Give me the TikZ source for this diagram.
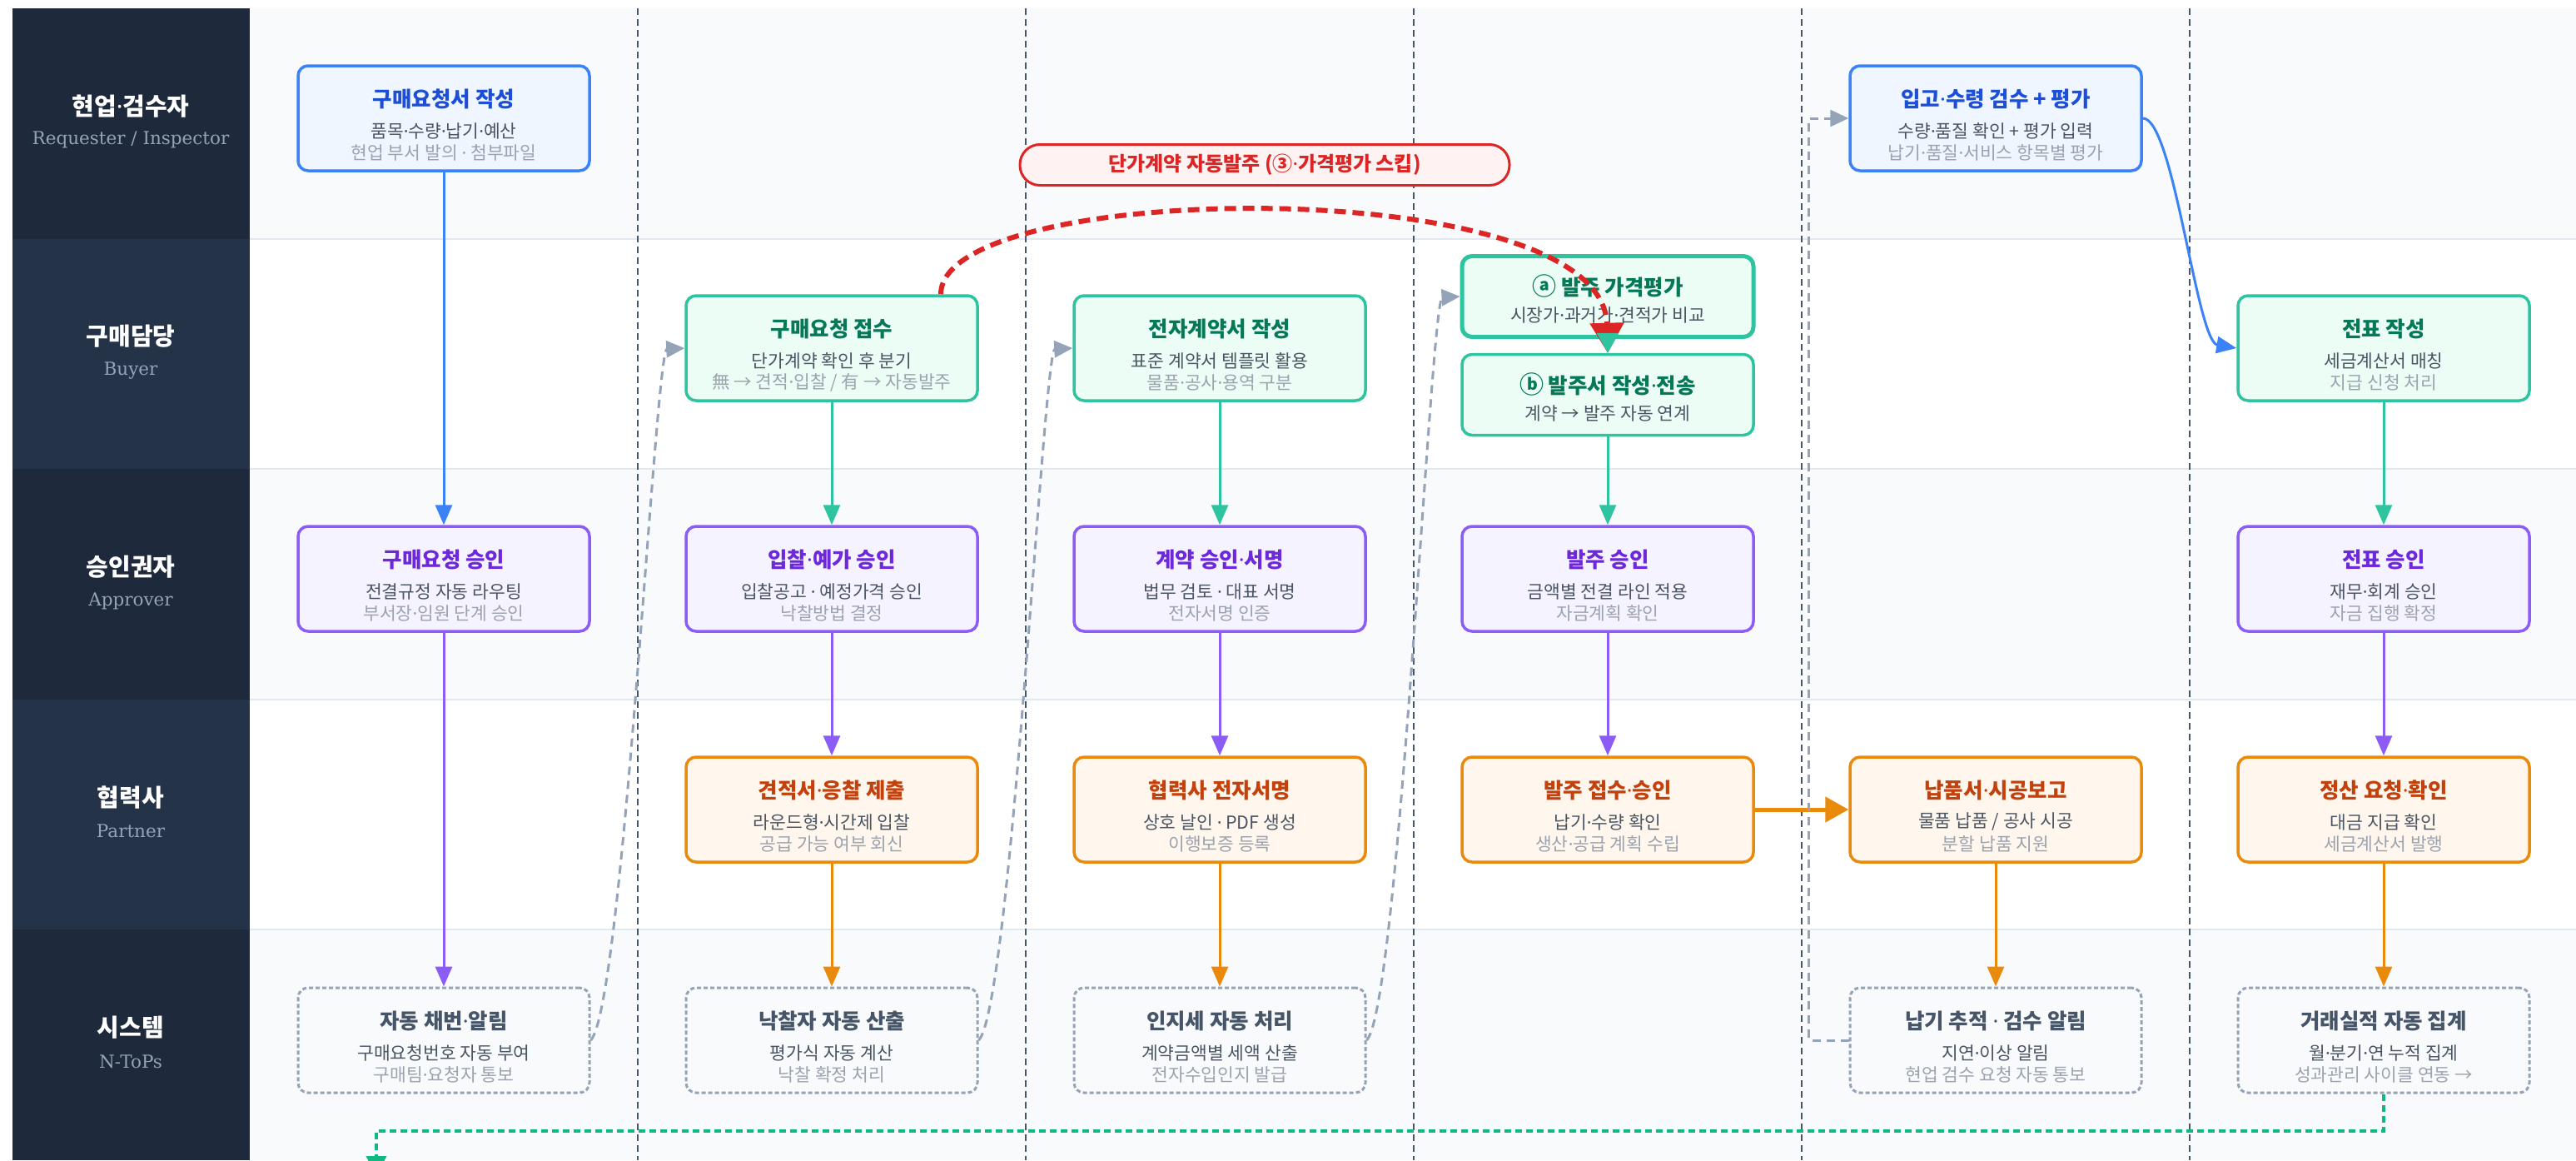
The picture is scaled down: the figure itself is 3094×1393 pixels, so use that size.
\documentclass[tikz,border=0pt]{standalone}
\usepackage{fontspec}
\setmainfont{Noto Sans CJK KR}
\newfontfamily\enserif{DejaVu Serif}
\newfontfamily\dotfont{Noto Sans}
\newcommand\md{{\dotfont ·}}
\newcommand\circsym[1]{{\fontsize{29}{30}\selectfont #1}}
\usetikzlibrary{arrows.meta}
\definecolor{hdA}{HTML}{1E293B}
\definecolor{hdB}{HTML}{253348}
\definecolor{laneA}{HTML}{F8FAFC}
\definecolor{laneB}{HTML}{FFFFFF}
\definecolor{laneline}{HTML}{E2E8F0}
\definecolor{colsepc}{HTML}{475569}
\definecolor{hdsubc}{HTML}{94A3B8}
\definecolor{bluebd}{HTML}{3B82F6}
\definecolor{bluefl}{HTML}{EFF6FF}
\definecolor{bluetx}{HTML}{1D4ED8}
\definecolor{greenbd}{HTML}{2EC4A0}
\definecolor{greenfl}{HTML}{ECFDF5}
\definecolor{greentx}{HTML}{047857}
\definecolor{purpbd}{HTML}{8B5CF6}
\definecolor{purpfl}{HTML}{F5F3FF}
\definecolor{purptx}{HTML}{6D28D9}
\definecolor{orgbd}{HTML}{EA8A0C}
\definecolor{orgfl}{HTML}{FFF7ED}
\definecolor{orgtx}{HTML}{C2410C}
\definecolor{sysbd}{HTML}{94A3B8}
\definecolor{sysfl}{HTML}{F8FAFC}
\definecolor{systx}{HTML}{475569}
\definecolor{subA}{HTML}{4B5563}
\definecolor{subB}{HTML}{9CA3AF}
\definecolor{redc}{HTML}{DC2626}
\definecolor{redfl}{HTML}{FEF2F2}
\definecolor{greenln}{HTML}{10B981}
\tikzset{
  pbase/.style={rectangle, rounded corners=12pt, minimum width=350pt, minimum height=126pt, line width=3.5pt, inner sep=0pt},
  bluebox/.style={pbase, draw=bluebd, fill=bluefl},
  greenbox/.style={pbase, draw=greenbd, fill=greenfl},
  greenboxa/.style={pbase, minimum height=97pt, line width=5pt, draw=greenbd, fill=greenfl},
  greenboxb/.style={pbase, minimum height=97pt, draw=greenbd, fill=greenfl},
  purpbox/.style={pbase, draw=purpbd, fill=purpfl},
  orgbox/.style={pbase, draw=orgbd, fill=orgfl},
  sysbox/.style={pbase, line width=3pt, draw=sysbd, fill=sysfl, dash pattern=on 5pt off 3pt},
  ttl/.style={inner sep=0pt, font=\fontsize{25.5}{30}\selectfont\bfseries},
  subl/.style={inner sep=0pt, text=subA, font=\fontsize{21.5}{26}\selectfont},
  subm/.style={inner sep=0pt, text=subB, font=\fontsize{21.5}{26}\selectfont},
  hdtitle/.style={inner sep=0pt, text=white, font=\fontsize{29}{34}\selectfont\bfseries},
  hdsub/.style={inner sep=0pt, text=hdsubc, font=\enserif\fontsize{21.5}{26}\selectfont},
  flow/.style={line width=3pt, draw=#1, -{Triangle[length=24pt,width=20pt]}},
  flow/.default=sysbd,
  gflow/.style={line width=3pt, draw=sysbd, dash pattern=on 10pt off 7pt, -{Triangle[length=22pt,width=20pt]}},
  colsep/.style={line width=1.5pt, draw=colsepc, dash pattern=on 8pt off 5pt},
  laneln/.style={line width=2pt, draw=laneline},
  pill/.style={rectangle, rounded corners=24pt, minimum width=588pt, minimum height=49pt, line width=3pt, draw=redc, fill=redfl, text=redc, font=\fontsize{24}{28}\selectfont\bfseries},
}
\newcommand\lanerow[5]{%
  \fill[#2] (300,{10+#1*276.6}) rectangle (3094,{10+(#1+1)*276.6});
  \fill[#3] (15,{10+#1*276.6}) rectangle (300,{10+(#1+1)*276.6});
  \node[hdtitle] (hk#1) at (157,{10+(#1+0.5)*276.6-21}) {#4};
  \node[hdsub] (he#1) at (157,{10+(#1+0.5)*276.6+20}) {#5};
}
\newcommand\pbx[8]{%
  \node[#4] (#1) at (#2,#3) {};
  \node[ttl, text=#5] (#1-t) at (#2,{#3-23}) {#6};
  \node[subl] (#1-a) at (#2,{#3+15}) {#7};
  \node[subm] (#1-b) at (#2,{#3+41}) {#8};
}
\newcommand\pbxtwo[7]{%
  \node[#4] (#1) at (#2,#3) {};
  \node[ttl, text=#5] (#1-t) at (#2,{#3-13}) {#6};
  \node[subl] (#1-a) at (#2,{#3+22}) {#7};
}
\begin{document}
\begin{tikzpicture}[x=1pt,y=-1pt]
\useasboundingbox (0,0) rectangle (3094,1393);
\fill[white] (0,0) rectangle (3094,1393);
\lanerow{0}{laneA}{hdA}{현업\md 검수자}{Requester / Inspector}
\lanerow{1}{laneB}{hdB}{구매담당}{Buyer}
\lanerow{2}{laneA}{hdA}{승인권자}{Approver}
\lanerow{3}{laneB}{hdB}{협력사}{Partner}
\lanerow{4}{laneA}{hdA}{시스템}{N-ToPs}
\foreach \i in {1,2,3,4} \draw[laneln] (300,{10+\i*276.6}) -- (3094,{10+\i*276.6});
\foreach \x in {766,1232,1698,2164,2630} \draw[colsep] (\x,10) -- (\x,1393);

% column 1
\pbx{r1}{533}{142}{bluebox}{bluetx}{구매요청서 작성}{품목\md 수량\md 납기\md 예산}{현업 부서 발의 \md\ 첨부파일}
\pbx{p1}{533}{695}{purpbox}{purptx}{구매요청 승인}{전결규정 자동 라우팅}{부서장\md 임원 단계 승인}
\pbx{s1}{533}{1249}{sysbox}{systx}{자동 채번\md 알림}{구매요청번호 자동 부여}{구매팀\md 요청자 통보}
% column 2
\pbx{g2}{999}{418}{greenbox}{greentx}{구매요청 접수}{단가계약 확인 후 분기}{無 → 견적\md 입찰 / 有 → 자동발주}
\pbx{p2}{999}{695}{purpbox}{purptx}{입찰\md 예가 승인}{입찰공고 \md\ 예정가격 승인}{낙찰방법 결정}
\pbx{o2}{999}{972}{orgbox}{orgtx}{견적서\md 응찰 제출}{라운드형\md 시간제 입찰}{공급 가능 여부 회신}
\pbx{s2}{999}{1249}{sysbox}{systx}{낙찰자 자동 산출}{평가식 자동 계산}{낙찰 확정 처리}
% column 3
\pbx{g3}{1465}{418}{greenbox}{greentx}{전자계약서 작성}{표준 계약서 템플릿 활용}{물품\md 공사\md 용역 구분}
\pbx{p3}{1465}{695}{purpbox}{purptx}{계약 승인\md 서명}{법무 검토 \md\ 대표 서명}{전자서명 인증}
\pbx{o3}{1465}{972}{orgbox}{orgtx}{협력사 전자서명}{상호 날인 \md\ PDF 생성}{이행보증 등록}
\pbx{s3}{1465}{1249}{sysbox}{systx}{인지세 자동 처리}{계약금액별 세액 산출}{전자수입인지 발급}
% column 4
\pbxtwo{a4}{1931}{356}{greenboxa}{greentx}{\circsym{ⓐ} 발주 가격평가}{시장가\md 과거가\md 견적가 비교}
\pbxtwo{b4}{1931}{474}{greenboxb}{greentx}{\circsym{ⓑ} 발주서 작성\md 전송}{계약 → 발주 자동 연계}
\pbx{p4}{1931}{695}{purpbox}{purptx}{발주 승인}{금액별 전결 라인 적용}{자금계획 확인}
\pbx{o4}{1931}{972}{orgbox}{orgtx}{발주 접수\md 승인}{납기\md 수량 확인}{생산\md 공급 계획 수립}
% column 5
\pbx{r5}{2397}{142}{bluebox}{bluetx}{입고\md 수령 검수 + 평가}{수량\md 품질 확인 + 평가 입력}{납기\md 품질\md 서비스 항목별 평가}
\pbx{o5}{2397}{972}{orgbox}{orgtx}{납품서\md 시공보고}{물품 납품 / 공사 시공}{분할 납품 지원}
\pbx{s5}{2397}{1249}{sysbox}{systx}{납기 추적 \md\ 검수 알림}{지연\md 이상 알림}{현업 검수 요청 자동 통보}
% column 6
\pbx{g6}{2863}{418}{greenbox}{greentx}{전표 작성}{세금계산서 매칭}{지급 신청 처리}
\pbx{p6}{2863}{695}{purpbox}{purptx}{전표 승인}{재무\md 회계 승인}{자금 집행 확정}
\pbx{o6}{2863}{972}{orgbox}{orgtx}{정산 요청\md 확인}{대금 지급 확인}{세금계산서 발행}
\pbx{s6}{2863}{1249}{sysbox}{systx}{거래실적 자동 집계}{월\md 분기\md 연 누적 집계}{성과관리 사이클 연동 →}

\node[pill] (skip) at (1519,198) {단가계약 자동발주 (③\md 가격평가 스킵)};

% connectors
\draw[flow=bluebd] (r1.south) -- (p1.north);
\draw[flow=purpbd] (p1.south) -- (s1.north);
\draw[gflow] (s1.east) .. controls +(39,-40) and +(-35,2) .. (g2.west);
\draw[flow=greenbd] (g2.south) -- (p2.north);
\draw[flow=purpbd] (p2.south) -- (o2.north);
\draw[flow=orgbd] (o2.south) -- (s2.north);
\draw[gflow] (s2.east) .. controls +(39,-40) and +(-35,2) .. (g3.west);
\draw[flow=greenbd] (g3.south) -- (p3.north);
\draw[flow=purpbd] (p3.south) -- (o3.north);
\draw[flow=orgbd] (o3.south) -- (s3.north);
\draw[gflow] (s3.east) .. controls +(39,-40) and +(-35,2) .. (a4.west);
\draw[line width=6pt, draw=redc, dash pattern=on 14pt off 8pt, -{Triangle[length=36pt,width=40pt]}]
  ([xshift=131pt]g2.north) .. controls (1130,215) and (1925,205) .. (b4.north);
\draw[line width=3pt, draw=greenbd, -{Triangle[length=24pt,width=26pt]}] (a4.south) -- (b4.north);
\draw[flow=greenbd] (b4.south) -- (p4.north);
\draw[flow=purpbd] (p4.south) -- (o4.north);
\draw[line width=5pt, draw=orgbd, -{Triangle[length=28pt,width=30pt]}] (o4.east) -- (o5.west);
\draw[flow=orgbd] (o5.south) -- (s5.north);
\draw[gflow] (s5.west) -- ++(-48,0) |- (r5.west);
\draw[flow=bluebd] (r5.east) .. controls +(37,0) and +(-48,-8) .. (g6.west);
\draw[flow=greenbd] (g6.south) -- (p6.north);
\draw[flow=purpbd] (p6.south) -- (o6.north);
\draw[flow=orgbd] (o6.south) -- (s6.north);
\coordinate (loopend) at (452,1412);
\draw[line width=4pt, draw=greenln, dash pattern=on 8pt off 5pt, -{Triangle[length=24pt,width=24pt]}] (s6.south) -- ++(0,44) -| (loopend);
\end{tikzpicture}
\end{document}
